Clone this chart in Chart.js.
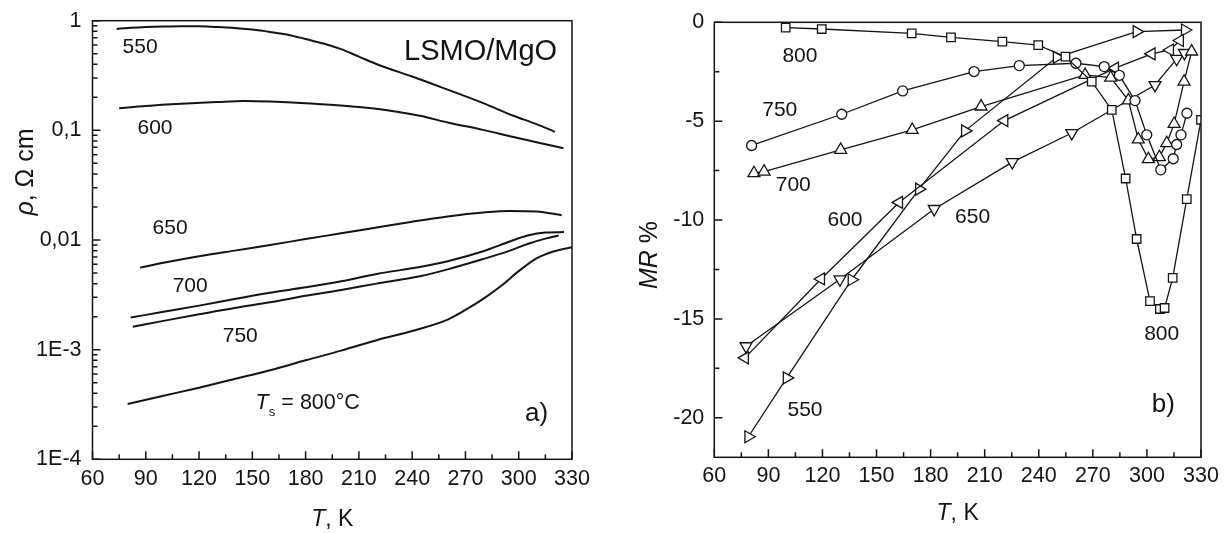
<!DOCTYPE html>
<html>
<head>
<meta charset="utf-8">
<script src="https://cdn.jsdelivr.net/npm/chart.js@4.4.1/dist/chart.umd.min.js"></script>
<style>
  html, body { margin: 0; padding: 0; background: #fff; }
  #wrap { position: relative; width: 1228px; height: 533px; overflow: hidden; }
  .panel { position: absolute; top: 0; width: 614px; height: 533px; }
</style>
</head>
<body>
<div id="wrap">
  <div class="panel" style="left:0"><canvas id="rho" width="614" height="533"></canvas></div>
  <div class="panel" style="left:614px"><canvas id="mr" width="614" height="533"></canvas></div>
</div>
<script>
// ---------- Panel a): resistivity of LSMO/MgO films vs temperature ----------
const tempTicks = [60, 90, 120, 150, 180, 210, 240, 270, 300, 330];
const rhoTicks = [1e-4, 1e-3, 1e-2, 1e-1, 1];
const rhoTickLabels = ['1E-4', '1E-3', '0,01', '0,1', '1'];

const rhoT550 = [73.6, 80, 90, 100, 110, 120, 130, 140, 150, 160, 170, 180, 190, 200, 210, 222, 240, 260, 280, 297, 310, 320.4];
const rho550  = [0.84, 0.86, 0.875, 0.885, 0.89, 0.89, 0.875, 0.86, 0.83, 0.79, 0.745, 0.68, 0.62, 0.55, 0.47, 0.39, 0.31, 0.235, 0.177, 0.136, 0.114, 0.097];

const rhoT600 = [75, 90, 110, 130, 145, 160, 180, 196, 210, 225, 245, 260, 280, 297, 310, 325.2];
const rho600  = [0.159, 0.167, 0.175, 0.181, 0.185, 0.183, 0.177, 0.170, 0.163, 0.153, 0.135, 0.118, 0.101, 0.087, 0.078, 0.0686];

const rhoT650 = [86.8, 100, 120, 140, 160, 180, 200, 220, 240, 260, 280, 295, 310, 324.2];
const rho650  = [0.0056, 0.0062, 0.0071, 0.0080, 0.0090, 0.0102, 0.0115, 0.0130, 0.0147, 0.0164, 0.0178, 0.0184, 0.0182, 0.0168];

const rhoT700 = [81.5, 100, 120, 140, 160, 180, 200, 220, 245, 260, 280, 295, 305, 315, 325.5];
const rho700  = [0.00196, 0.00222, 0.00252, 0.0029, 0.0033, 0.0037, 0.0042, 0.0049, 0.0057, 0.0064, 0.0079, 0.0097, 0.0110, 0.0117, 0.0118];

const rhoT750 = [82.7, 100, 120, 140, 160, 180, 200, 220, 245, 260, 280, 295, 305, 315, 322.5];
const rho750  = [0.00162, 0.00183, 0.0021, 0.0024, 0.0027, 0.0031, 0.0035, 0.0040, 0.0047, 0.0054, 0.0067, 0.0080, 0.0092, 0.0103, 0.0110];

const rhoT800 = [79.8, 100, 120, 140, 160, 180, 200, 220, 240, 260, 270, 280, 290, 300, 310, 320, 330];
const rho800  = [0.00032, 0.00038, 0.00045, 0.00054, 0.00065, 0.00080, 0.00098, 0.00122, 0.00148, 0.00188, 0.0023, 0.0029, 0.0038, 0.0052, 0.0068, 0.0079, 0.0086];

// ---------- Panel b): magnetoresistance vs temperature ----------
const mrTicks = [-20, -15, -10, -5, 0];
const mrTickLabels = ['-20', '-15', '-10', '-5', '0'];

const mrT550 = [78.9, 100.2, 136.2, 173.6, 199.1, 250.0, 294.3, 321.1];
const mr550  = [-20.96, -17.98, -13.02, -8.44, -5.49, -1.77, -0.47, -0.39];

const mrT600 = [77.0, 119.2, 162.5, 220.9, 282.3, 302.6, 312.8, 318.3];
const mr600  = [-16.97, -12.98, -9.11, -4.97, -2.32, -1.6, -1.4, -0.92];

const mrT650 = [77.6, 129.7, 182.0, 225.3, 258.3, 304.5, 316.5, 320.8];
const mr650  = [-16.38, -13.0, -9.44, -7.07, -5.6, -3.17, -1.85, -1.55];

const mrT700 = [82.0, 87.6, 130.1, 169.8, 208.0, 265.7, 279.9, 289.7, 295.2, 300.8, 306.9, 311.0, 315.1, 320.6, 324.8];
const mr700  = [-7.63, -7.55, -6.45, -5.44, -4.26, -2.66, -2.8, -3.95, -5.92, -6.92, -6.82, -6.11, -5.14, -3.0, -1.48];

const mrT750 = [80.7, 130.7, 164.5, 204.1, 229.2, 260.6, 276.3, 284.7, 293.4, 299.9, 307.7, 314.6, 316.5, 318.9, 322.2];
const mr750  = [-6.23, -4.65, -3.47, -2.49, -2.19, -2.07, -2.24, -2.68, -3.96, -5.69, -7.46, -6.9, -6.18, -5.69, -4.6];

const mrT800 = [99.6, 119.6, 169.5, 191.3, 219.8, 239.7, 254.8, 269.4, 280.5, 288.2, 294.3, 301.7, 307.2, 309.8, 314.3, 322.1, 330.0];
const mr800  = [-0.27, -0.34, -0.56, -0.76, -0.98, -1.15, -1.74, -3.0, -4.43, -7.9, -10.96, -14.1, -14.5, -14.45, -12.93, -8.94, -4.93];

// ---------- shared styling ----------
const FONT = '"Liberation Sans", Arial, Helvetica, sans-serif';
const INK = '#141414';

const pts = (xs, ys) => xs.map((x, i) => ({ x, y: ys[i] }));

const tempMinor = tempTicks.slice(0, -1).map(v => v + 15);
const rhoMinor = [];
rhoTicks.slice(0, -1).forEach(d => { for (let m = 2; m <= 9; m++) rhoMinor.push(m * d); });
const mrMinor = [-17.5, -12.5, -7.5, -2.5];

// Writes a run of text pieces (italic / subscript / plain) starting from a baseline point.
function drawRich(ctx, parts, x, y, size, align) {
  const segs = parts.map(p => {
    const s = (p.sub || p.sup) ? size * 0.62 : size;
    const font = (p.it ? 'italic ' : '') + s + 'px ' + FONT;
    ctx.font = font;
    return { t: p.t, font, w: ctx.measureText(p.t).width,
             dy: p.sub ? size * 0.3 : (p.sup ? -size * 0.42 : 0) };
  });
  const total = segs.reduce((a, s) => a + s.w, 0);
  let cx = align === 'center' ? x - total / 2 : (align === 'right' ? x - total : x);
  ctx.textAlign = 'left';
  ctx.textBaseline = 'alphabetic';
  segs.forEach(s => { ctx.font = s.font; ctx.fillText(s.t, cx, y + s.dy); cx += s.w; });
}

// Box frame, inward tick marks, in-plot labels and axis titles.
function framePlugin(cfg) {
  return {
    id: 'frame',
    afterDraw(chart) {
      const { ctx, chartArea: a, scales: { x, y } } = chart;
      ctx.save();
      ctx.strokeStyle = INK;
      ctx.fillStyle = INK;
      ctx.lineWidth = 1.5;
      ctx.strokeRect(a.left, a.top, a.right - a.left, a.bottom - a.top);

      ctx.beginPath();
      const xt = (vals, len) => vals.forEach(v => {
        const p = x.getPixelForValue(v);
        ctx.moveTo(p, a.bottom); ctx.lineTo(p, a.bottom - len);
      });
      const yt = (vals, len) => vals.forEach(v => {
        const p = y.getPixelForValue(v);
        ctx.moveTo(a.left, p); ctx.lineTo(a.left + len, p);
      });
      xt(cfg.xMajor, 8); xt(cfg.xMinor, 5);
      yt(cfg.yMajor, 8); yt(cfg.yMinor, cfg.yMinorLen);
      ctx.stroke();

      cfg.notes.forEach(n => {
        const px = x.getPixelForValue(n.x);
        const py = y.getPixelForValue(n.y);
        drawRich(ctx, n.parts, px, py + 0.36 * n.size, n.size, 'center');
      });

      const xtTitle = cfg.xTitle;
      drawRich(ctx, xtTitle.parts, (a.left + a.right) / 2, a.bottom + xtTitle.dy, xtTitle.size, 'center');

      const ytTitle = cfg.yTitle;
      ctx.translate(ytTitle.cx, a.top + (a.bottom - a.top) * ytTitle.frac);
      ctx.rotate(-Math.PI / 2);
      drawRich(ctx, ytTitle.parts, 0, 0.36 * ytTitle.size, ytTitle.size, 'center');
      ctx.restore();
    }
  };
}

function axisOpts(extra) {
  return Object.assign({
    grid: { display: false, drawTicks: false },
    border: { display: false },
  }, extra);
}

const tickFont = { family: FONT, size: 21.5 };

// ---------- chart a) ----------
const curve = (label, xs, ys) => ({ label, data: pts(xs, ys) });

new Chart(document.getElementById('rho'), {
  type: 'line',
  data: {
    datasets: [
      curve('550', rhoT550, rho550),
      curve('600', rhoT600, rho600),
      curve('650', rhoT650, rho650),
      curve('700', rhoT700, rho700),
      curve('750', rhoT750, rho750),
      curve('800', rhoT800, rho800),
    ]
  },
  options: {
    responsive: false,
    animation: false,
    layout: { padding: { left: 0, right: 42, top: 20.7, bottom: 0 } },
    plugins: { legend: { display: false }, tooltip: { enabled: false } },
    elements: {
      line: { borderColor: INK, borderWidth: 2, fill: false, cubicInterpolationMode: 'monotone' },
      point: { radius: 0 }
    },
    scales: {
      x: axisOpts({
        type: 'linear', min: 60, max: 330,
        afterBuildTicks: s => { s.ticks = tempTicks.map(v => ({ value: v })); },
        afterFit: s => { s.height = 73.7; s.paddingLeft = 0; s.paddingRight = 0; },
        ticks: { font: tickFont, color: INK, padding: 7, maxRotation: 0, autoSkip: false,
                 callback: v => String(v) }
      }),
      y: axisOpts({
        type: 'logarithmic', min: 1e-4, max: 1,
        afterBuildTicks: s => { s.ticks = rhoTicks.map(v => ({ value: v })); },
        afterFit: s => { s.width = 92.5; s.paddingTop = 0; s.paddingBottom = 0; },
        ticks: { font: tickFont, color: INK, padding: 11, autoSkip: false,
                 callback: (v, i) => rhoTickLabels[i] }
      })
    }
  },
  plugins: [framePlugin({
    xMajor: tempTicks, xMinor: tempMinor,
    yMajor: rhoTicks, yMinor: rhoMinor, yMinorLen: 5,
    notes: [
      { x: 86.8, y: 0.60, size: 21, parts: [{ t: '550' }] },
      { x: 95.2, y: 0.1096, size: 21, parts: [{ t: '600' }] },
      { x: 103.7, y: 0.0132, size: 21, parts: [{ t: '650' }] },
      { x: 115, y: 0.00397, size: 21, parts: [{ t: '700' }] },
      { x: 143.2, y: 0.00139, size: 21, parts: [{ t: '750' }] },
      { x: 278.5, y: 0.548, size: 29, parts: [{ t: 'LSMO/MgO' }] },
      { x: 310.1, y: 2.72e-4, size: 26, parts: [{ t: 'a)' }] },
      { x: 181.2, y: 3.35e-4, size: 21.5,
        parts: [{ t: 'T', it: true }, { t: 's', sub: true }, { t: ' = 800°C' }] },
    ],
    xTitle: { parts: [{ t: 'T', it: true }, { t: ', K' }], size: 23, dy: 67 },
    yTitle: { parts: [{ t: 'ρ', it: true }, { t: ', Ω cm' }], size: 25, cx: 24, frac: 0.345 }
  })]
});

// ---------- chart b) ----------
const marked = (label, xs, ys, style, rot, r) => ({
  label, data: pts(xs, ys),
  pointStyle: style, pointRotation: rot, pointRadius: r
});

new Chart(document.getElementById('mr'), {
  type: 'line',
  data: {
    datasets: [
      marked('800', mrT800, mr800, 'rect', 0, 6),
      marked('750', mrT750, mr750, 'circle', 0, 5),
      marked('700', mrT700, mr700, 'triangle', 0, 6.9),
      marked('650', mrT650, mr650, 'triangle', 180, 6.9),
      marked('600', mrT600, mr600, 'triangle', 270, 6.9),
      marked('550', mrT550, mr550, 'triangle', 90, 6.9),
    ]
  },
  options: {
    responsive: false,
    animation: false,
    layout: { padding: { left: 0, right: 27, top: 22.3, bottom: 0 } },
    plugins: { legend: { display: false }, tooltip: { enabled: false } },
    elements: {
      line: { borderColor: INK, borderWidth: 1.3, fill: false, tension: 0 },
      point: { backgroundColor: '#fff', borderColor: INK, borderWidth: 1.3 }
    },
    scales: {
      x: axisOpts({
        type: 'linear', min: 60, max: 330,
        afterBuildTicks: s => { s.ticks = tempTicks.map(v => ({ value: v })); },
        afterFit: s => { s.height = 75.7; s.paddingLeft = 0; s.paddingRight = 0; },
        ticks: { font: tickFont, color: INK, padding: 6, maxRotation: 0, autoSkip: false,
                 callback: v => String(v) }
      }),
      y: axisOpts({
        type: 'linear', min: -22, max: 0,
        afterBuildTicks: s => { s.ticks = mrTicks.map(v => ({ value: v })); },
        afterFit: s => { s.width = 100.3; s.paddingTop = 0; s.paddingBottom = 0; },
        ticks: { font: tickFont, color: INK, padding: 10, autoSkip: false,
                 callback: (v, i) => mrTickLabels[i] }
      })
    }
  },
  plugins: [framePlugin({
    xMajor: tempTicks, xMinor: tempMinor,
    yMajor: mrTicks, yMinor: mrMinor, yMinorLen: 5,
    notes: [
      { x: 107.5, y: -1.65, size: 21, parts: [{ t: '800' }] },
      { x: 96.3, y: -4.34, size: 21, parts: [{ t: '750' }] },
      { x: 103.8, y: -8.13, size: 21, parts: [{ t: '700' }] },
      { x: 132.5, y: -9.9, size: 21, parts: [{ t: '600' }] },
      { x: 203.3, y: -9.78, size: 21, parts: [{ t: '650' }] },
      { x: 110.3, y: -19.55, size: 21, parts: [{ t: '550' }] },
      { x: 308.2, y: -15.66, size: 21, parts: [{ t: '800' }] },
      { x: 309.1, y: -19.24, size: 26, parts: [{ t: 'b)' }] },
    ],
    xTitle: { parts: [{ t: 'T', it: true }, { t: ', K' }], size: 23, dy: 63 },
    yTitle: { parts: [{ t: 'MR', it: true }, { t: ' %' }], size: 25, cx: 33.5, frac: 0.535 }
  })]
});
</script>
</body>
</html>
